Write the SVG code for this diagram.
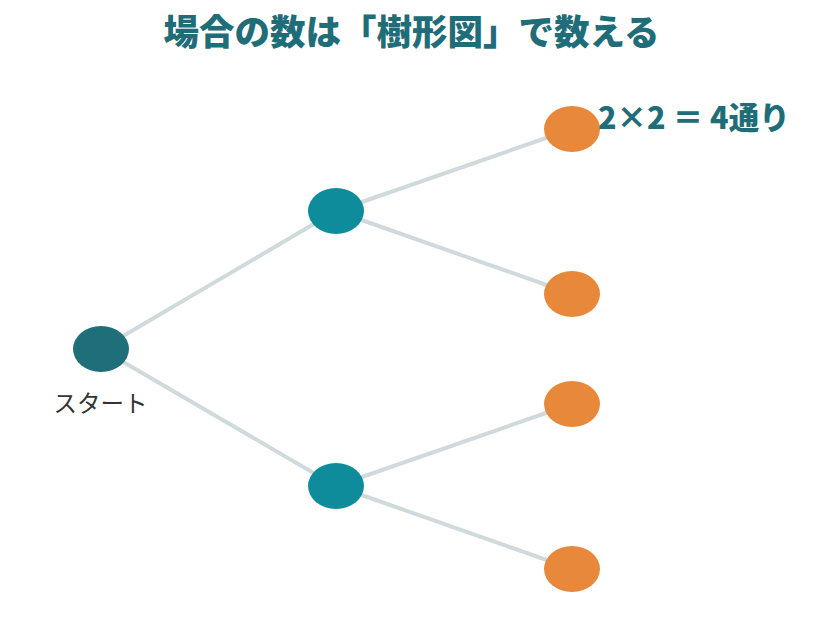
<svg xmlns="http://www.w3.org/2000/svg" width="824" height="641" viewBox="0 0 824 641">
<style>
.edge{stroke:#D0DADC;stroke-width:4;fill:none;stroke-linecap:round}
.root{fill:#1F6F7A}
.mid{fill:#0E8C9C}
.leaf{fill:#E8883A}
.title{font-family:"Noto Sans CJK JP","Noto Sans",sans-serif;font-weight:900;fill:#1F6D78}
.lbl{font-family:"Noto Sans CJK JP","Noto Sans",sans-serif;fill:#333333;font-size:23.5px}
</style>
<rect width="824" height="641" fill="#FFFFFF"/>
<text class="title" x="411.5" y="45" font-size="35.5" text-anchor="middle">場合の数は「樹形図」で数える</text>
<g id="connectors">
<line class="edge" x1="101" y1="349" x2="336" y2="211"/>
<line class="edge" x1="101" y1="349" x2="336" y2="486"/>
<line class="edge" x1="336" y1="211" x2="572" y2="129"/>
<line class="edge" x1="336" y1="211" x2="572" y2="294"/>
<line class="edge" x1="336" y1="486" x2="572" y2="404"/>
<line class="edge" x1="336" y1="486" x2="572" y2="569"/>
</g>
<g id="start"><ellipse class="root" cx="101" cy="349" rx="28" ry="23"/><text class="lbl" x="100.5" y="412" text-anchor="middle">スタート</text></g>
<g id="mid1"><ellipse class="mid" cx="336" cy="211" rx="28" ry="23"/></g>
<g id="mid2"><ellipse class="mid" cx="336" cy="486" rx="28" ry="23"/></g>
<g id="leaf1"><ellipse class="leaf" cx="572" cy="129" rx="28" ry="23"/></g>
<g id="leaf2"><ellipse class="leaf" cx="572" cy="294" rx="28" ry="23"/></g>
<g id="leaf3"><ellipse class="leaf" cx="572" cy="404" rx="28" ry="23"/></g>
<g id="leaf4"><ellipse class="leaf" cx="572" cy="569" rx="28" ry="23"/></g>
<text class="title" x="598" y="129" font-size="30.5">2×2 ＝ 4通り</text>
</svg>
